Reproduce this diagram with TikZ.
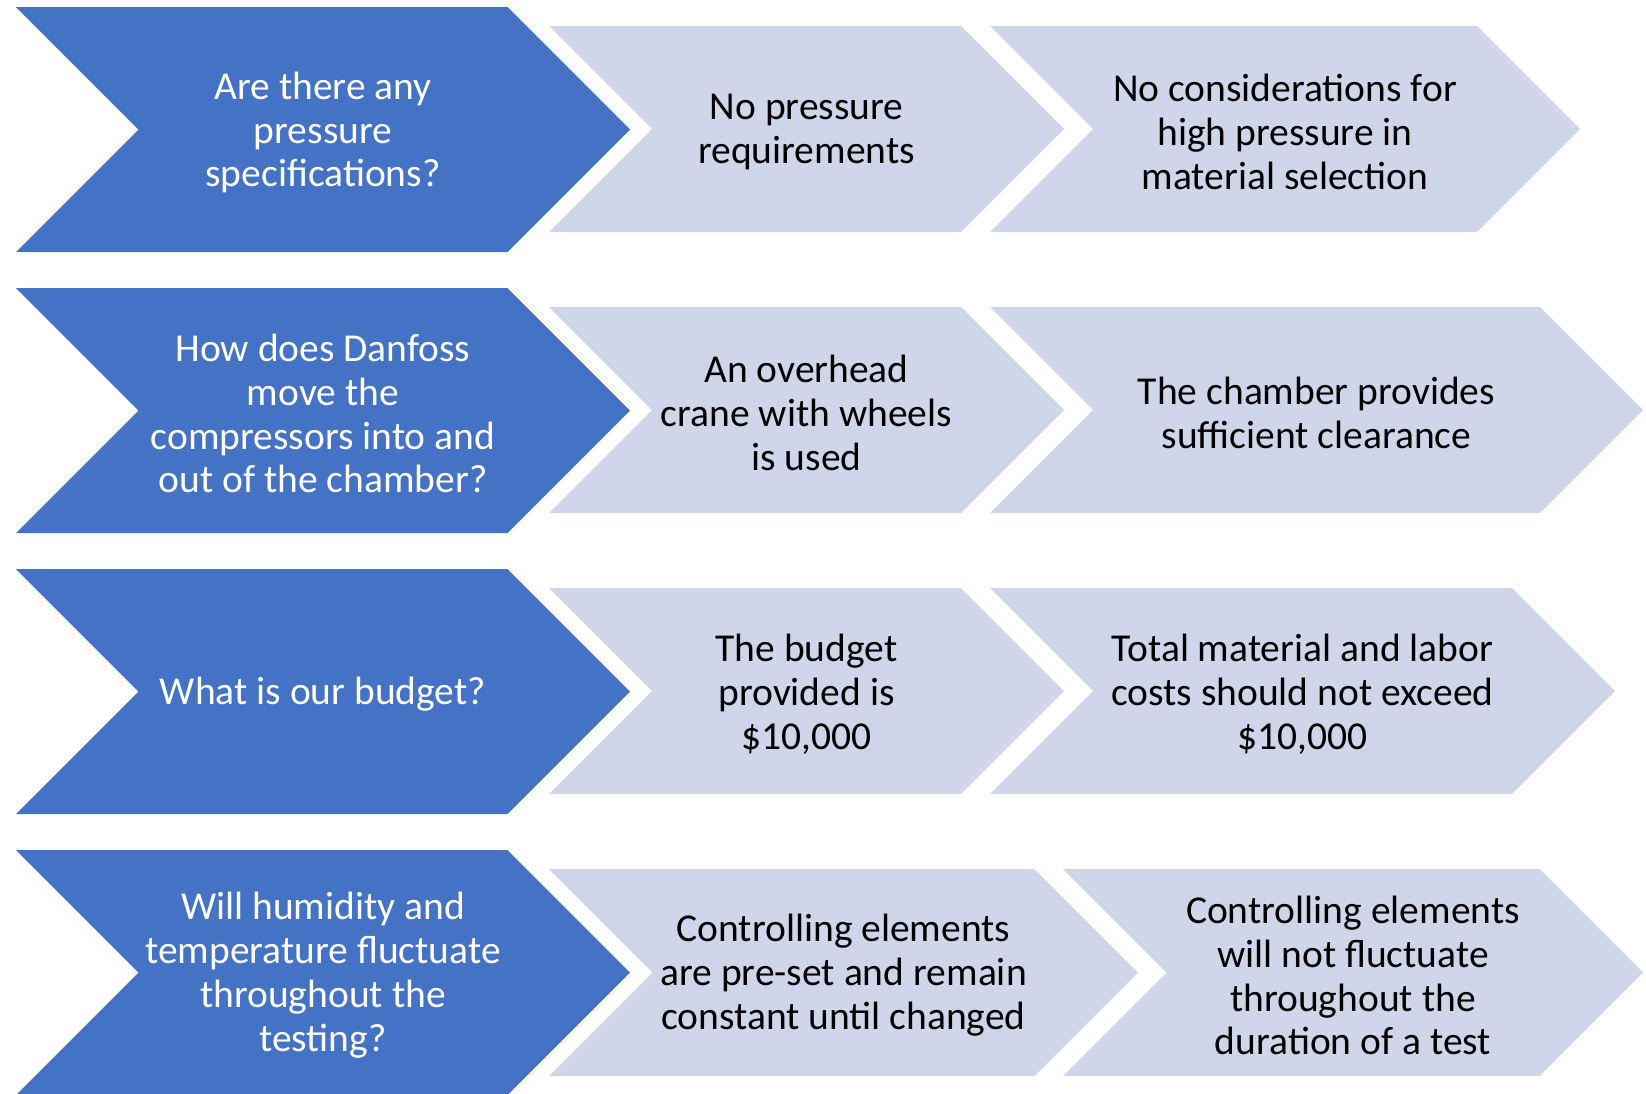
\documentclass[tikz,border=0pt]{standalone}
\usepackage{fontspec}
\setmainfont{Carlito}
\usepackage{tikz}

\definecolor{qblue}{RGB}{68,114,196}
\definecolor{ablue}{RGB}{208,214,234}

% chevron: name, kind, left x, tip x, top y, bottom y, text
\newcommand{\chev}[7]{%
  \fill[#2 shape] (#3,#5) -- ({#4-(#6-#5)/2},#5) -- (#4,{(#5+#6)/2})
    -- ({#4-(#6-#5)/2},#6) -- (#3,#6) -- ({#3+(#6-#5)/2},{(#5+#6)/2}) -- cycle;
  \node[#2 label] (#1) at ({(#3+#4)/2},{(#5+#6)/2}) {#7};
}

\begin{document}
\begin{tikzpicture}[x=0.02cm, y=-0.02cm,
    question shape/.style={fill=qblue},
    answer shape/.style={fill=ablue},
    label/.style={inner sep=0pt, align=center, yshift=-1.7pt, font=\fontsize{22.5}{25}\selectfont},
    question label/.style={label, text=white},
    answer label/.style={label, text=black}]
  \useasboundingbox (0,0) rectangle (1646,1093);

  % pressure
  \chev{qpress}{question}{16}{630}{7}{252}{Are there any\\pressure\\specifications?}
  \chev{apress}{answer}{549}{1064}{26}{232}{No pressure\\requirements}
  \chev{cpress}{answer}{990}{1580}{26}{232}{No considerations for\\high pressure in\\material selection}

  % moving the compressors
  \chev{qmove}{question}{16}{630}{288}{533}{How does Danfoss\\move the\\compressors into and\\out of the chamber?}
  \chev{amove}{answer}{549}{1064}{307}{513}{An overhead\\crane with wheels\\is used}
  \chev{cmove}{answer}{990}{1643}{307}{513}{The chamber provides\\sufficient clearance}

  % budget
  \chev{qbudget}{question}{16}{630}{569}{814}{What is our budget?}
  \chev{abudget}{answer}{549}{1064}{588}{794}{The budget\\provided is\\\$10,000}
  \chev{cbudget}{answer}{990}{1615}{588}{794}{Total material and labor\\costs should not exceed\\\$10,000}

  % humidity and temperature
  \chev{qclimate}{question}{16}{630}{850}{1095}{Will humidity and\\temperature fluctuate\\throughout the\\testing?}
  \chev{aclimate}{answer}{549}{1138}{869}{1076}{Controlling elements\\are pre-set and remain\\constant until changed}
  \chev{cclimate}{answer}{1063}{1643}{869}{1076}{Controlling elements\\will not fluctuate\\throughout the\\duration of a test}
\end{tikzpicture}
\end{document}
